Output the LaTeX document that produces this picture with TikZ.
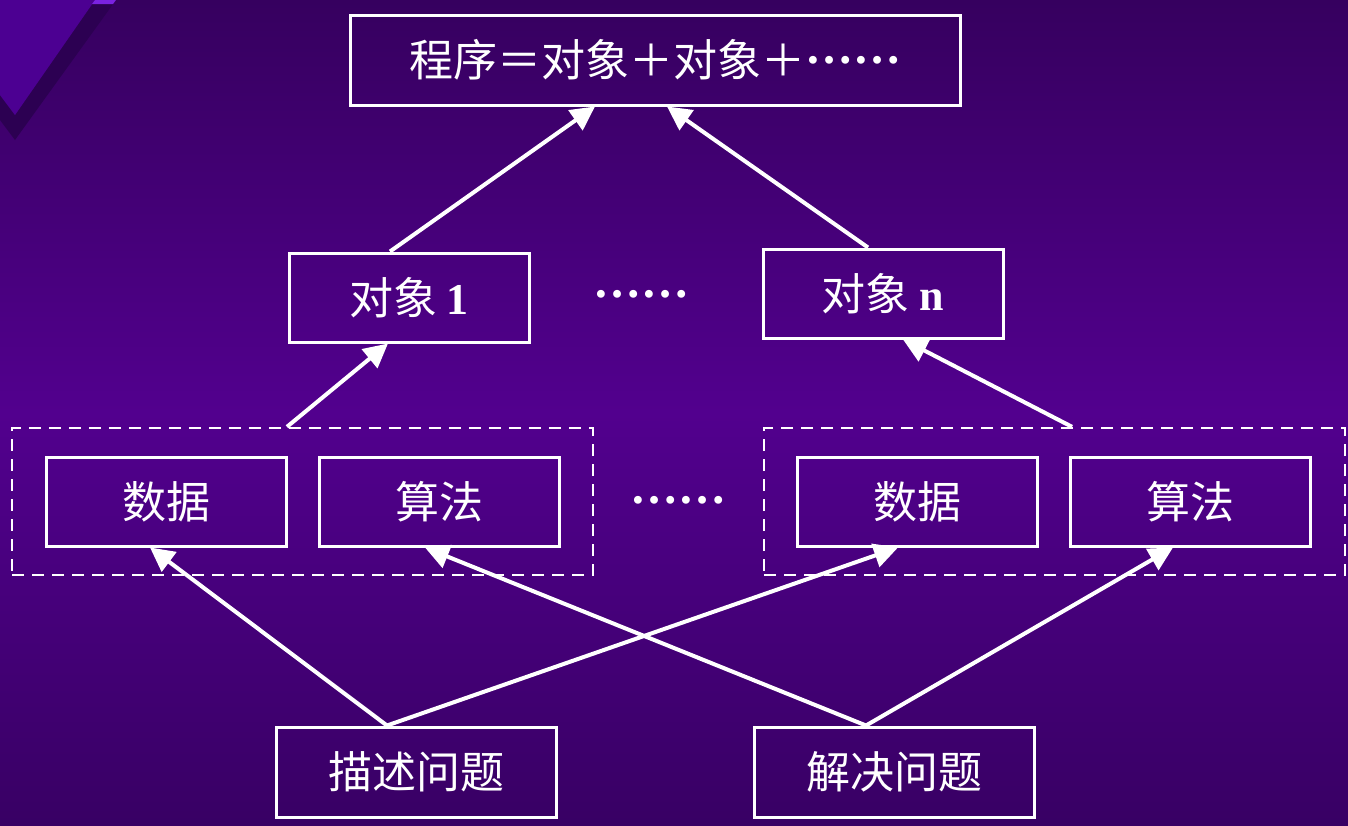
\documentclass[tikz,border=0pt]{standalone}
\usepackage{fontspec}
\setmainfont{Liberation Serif}
\newfontfamily\cjk{Noto Sans CJK SC}
\usetikzlibrary{arrows.meta}
\definecolor{bgtop}{HTML}{36005F}
\definecolor{bgmid}{HTML}{52008E}
\definecolor{bgbot}{HTML}{380064}
\definecolor{chevface}{HTML}{4C0092}
\definecolor{chevshade}{HTML}{2C0052}
\definecolor{chevlight}{HTML}{7A22E0}
\newcommand{\mydots}{{\rmfamily\bfseries\fontsize{24}{26}\selectfont ……}}
\tikzset{
  box/.style={draw=white, line width=1.5pt, minimum width=120pt, minimum height=44.5pt, inner sep=0pt, text=white, font=\cjk\fontsize{22}{24}\selectfont},
  grp/.style={draw=white, line width=1.2pt, dash pattern=on 6pt off 4pt, minimum width=290.5pt, minimum height=73.5pt, inner sep=0pt},
  arr/.style={draw=white, line width=2pt, -{Triangle[length=12pt,width=12pt]}},
  dots/.style={text=white, inner sep=0pt, anchor=base}
}
\begin{document}
\begin{tikzpicture}[x=0.5pt,y=-0.5pt]
\useasboundingbox (0,0) rectangle (1348,825);
\shade[top color=bgtop, bottom color=bgbot, middle color=bgmid] (0,0) rectangle (1348,825);
% decoration
\fill[chevshade] (95,0) -- (116,0) -- (15,140) -- (0,120) -- (0,95) -- (15,115) -- cycle;
\fill[chevface] (0,0) -- (95,0) -- (15,115) -- (0,95) -- cycle;
\fill[chevlight] (95,0) -- (116,0) -- (113,4) -- (92,4) -- cycle;
% nodes
\node[box, minimum width=305pt, minimum height=45pt] (top) at (655,60) {程序＝对象＋对象＋\raisebox{0.3em}{\mydots}};
\node[box] (o1) at (409,297.5) {对象 {\rmfamily\bfseries 1}};
\node[dots] (dt1) at (641,297) {\mydots};
\node[box] (on) at (883,293.5) {对象 {\rmfamily\bfseries n}};
\node[grp] (g1) at (302.5,501.5) {};
\node[grp] (g2) at (1054.5,501.5) {};
\node[box] (d1) at (166,501.5) {数据};
\node[box] (a1) at (439,501.5) {算法};
\node[dots] (dt2) at (678,503) {\mydots};
\node[box] (d2) at (917,501.5) {数据};
\node[box] (a2) at (1190,501.5) {算法};
\node[box, minimum width=140pt, minimum height=45pt] (p1) at (416,772) {描述问题};
\node[box, minimum width=140pt, minimum height=45pt] (p2) at (894,772) {解决问题};
% arrows
\draw[arr] ([xshift=-9.5pt]o1.north) -- ([xshift=-30pt]top.south);
\draw[arr] ([xshift=-7.5pt]on.north) -- ([xshift=6pt]top.south);
\draw[arr] ([xshift=-7.75pt]g1.north) -- ([xshift=-10.5pt]o1.south);
\draw[arr] ([xshift=8.75pt]g2.north) -- ([xshift=10pt]on.south);
\draw[arr] ([xshift=-14.5pt]p1.north) -- ([xshift=-8pt]d1.south);
\draw[arr] ([xshift=-14.5pt]p1.north) -- ([xshift=-9.5pt]d2.south);
\draw[arr] ([xshift=-14pt]p2.north) -- ([xshift=-7pt]a1.south);
\draw[arr] ([xshift=-14pt]p2.north) -- ([xshift=-8.5pt]a2.south);
\end{tikzpicture}
\end{document}
